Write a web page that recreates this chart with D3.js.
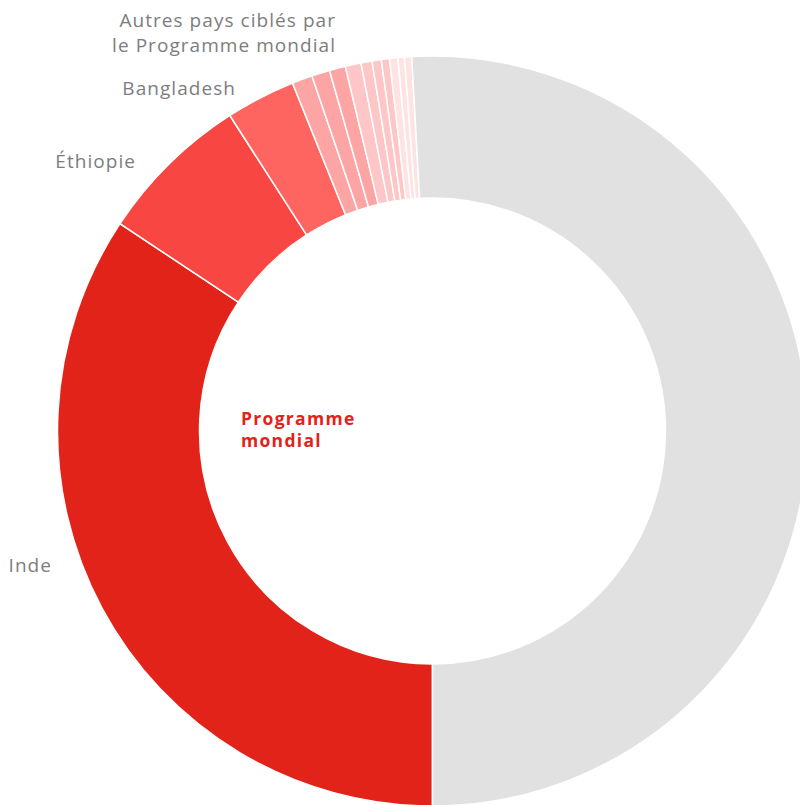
<!DOCTYPE html>
<html><head><meta charset="utf-8">
<script src="https://cdn.jsdelivr.net/npm/d3@7"></script>
<style>
html,body{margin:0;padding:0;background:#fff;overflow:hidden;}
text{font-family:"Open Sans",sans-serif;}
</style></head>
<body>
<svg id="chart" width="800" height="805"></svg>
<script>
// Data (percent share)
const categories = ["Inde","Éthiopie","Bangladesh","Pays 4","Pays 5","Pays 6","Pays 7","Pays 8","Pays 9","Pays 10","Pays 11","Pays 12","Pays 13","Reste"];
const values = [34.32, 6.59, 3.0, 0.88, 0.78, 0.69, 0.68, 0.475, 0.40, 0.35, 0.36, 0.28, 0.31, 50.88];
const colors = ["#e2231a","#f84642","#fe6560","#fda5a5","#fda5a5","#fda5a5","#fec6c6","#fec6c6","#fec6c6","#fec6c6","#fee3e3","#fee3e3","#fee3e3","#e1e1e1"];
const labels = [
  {lines:["Autres pays ciblés par","le Programme mondial"], x:335, y:27},
  {lines:["Bangladesh"], x:235, y:95},
  {lines:["Éthiopie"], x:135, y:168},
  {lines:["Inde"], x:51, y:572}
];
const centerLabel = ["Programme","mondial"];

const svg = d3.select("#chart");
const cx = 432.5, cy = 431, rOuter = 375, rInner = 233;
const g = svg.append("g").attr("transform", `translate(${cx},${cy})`);

const data = categories.map((c,i)=>({name:c, value:values[i], color:colors[i]}));
const pie = d3.pie().sort(null).value(d=>d.value).startAngle(Math.PI).endAngle(3*Math.PI);
const arc = d3.arc().innerRadius(rInner).outerRadius(rOuter);

g.selectAll("path").data(pie(data)).join("path")
  .attr("d", arc)
  .attr("fill", d=>d.data.color)
  .attr("stroke", "#fff")
  .attr("stroke-width", 1.5);

labels.forEach(l=>{
  const t = svg.append("text")
    .attr("text-anchor","end")
    .attr("fill","#7d7d7d")
    .attr("font-size",19)
    .attr("letter-spacing",1.05)
    .attr("font-weight",400);
  l.lines.forEach((ln,i)=>{
    t.append("tspan").attr("x", l.x + 1).attr("y", l.y + i*24.5).text(ln);
  });
});

const ct = svg.append("text")
  .attr("fill","#e2231a")
  .attr("font-size",17.5)
  .attr("letter-spacing",1.3)
  .attr("font-weight",700);
centerLabel.forEach((ln,i)=>{
  ct.append("tspan").attr("x",241).attr("y",424.5 + i*22).text(ln);
});
</script>
</body></html>
